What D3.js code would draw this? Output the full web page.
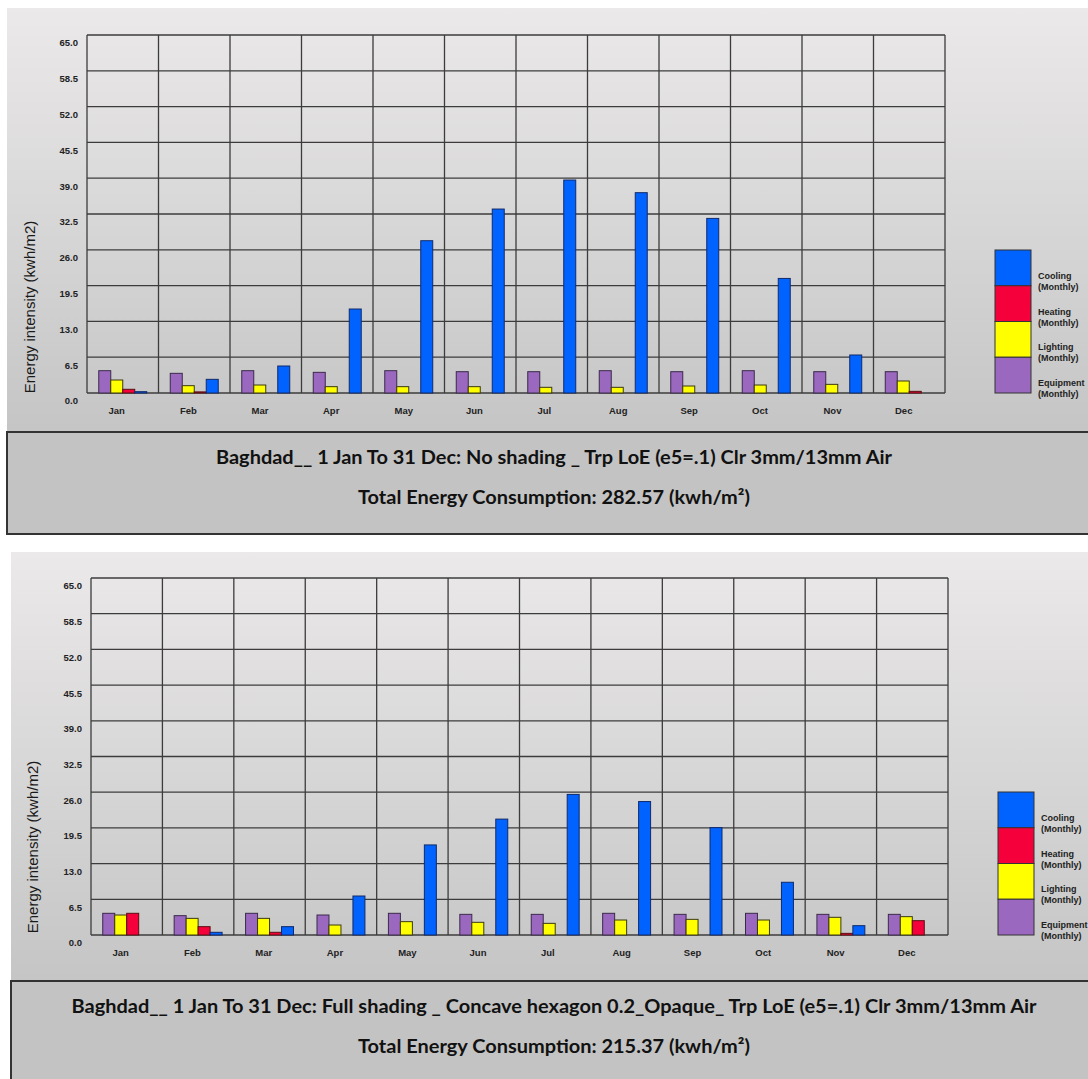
<!DOCTYPE html>
<html>
<head>
<meta charset="utf-8">
<script src="https://cdn.jsdelivr.net/npm/d3@7/dist/d3.min.js"></script>
<style>
  html, body { margin: 0; padding: 0; background: #ffffff; }
  svg { display: block; }
</style>
</head>
<body>
<svg id="chart" width="1088" height="1079"></svg>
<script>
// ---------------- DATA ----------------
const months = ["Jan", "Feb", "Mar", "Apr", "May", "Jun", "Jul", "Aug", "Sep", "Oct", "Nov", "Dec"];
const seriesNames = ["Equipment", "Lighting", "Heating", "Cooling"];
const legendLabels = ["Cooling", "Heating", "Lighting", "Equipment"];
const yTickValues = [0, 6.5, 13, 19.5, 26, 32.5, 39, 45.5, 52, 58.5, 65];
const yAxisTitle = "Energy intensity (kwh/m2)";

// Chart 1: No shading
const equipment1 = [4.05, 3.57, 4.05, 3.75, 4.05, 3.87, 3.87, 4.05, 3.87, 4.05, 3.87, 3.87];
const lighting1  = [2.36, 1.33, 1.45, 1.15, 1.15, 1.15, 1.03, 1.03, 1.27, 1.45, 1.57, 2.18];
const heating1   = [0.67, 0.2, 0, 0, 0, 0, 0, 0, 0, 0, 0, 0.3];
const cooling1   = [0.24, 2.48, 4.9, 15.25, 27.65, 33.4, 38.67, 36.37, 31.7, 20.8, 6.9, 0];
const caption1a = "Baghdad__ 1 Jan To 31 Dec: No shading _ Trp LoE (e5=.1) Clr 3mm/13mm Air";
const caption1b = "Total Energy Consumption: 282.57 (kwh/m²)";

// Chart 2: Full shading
const equipment2 = [3.95, 3.52, 3.95, 3.64, 3.95, 3.76, 3.76, 3.95, 3.76, 3.95, 3.76, 3.76];
const lighting2  = [3.64, 3.03, 3.03, 1.82, 2.43, 2.31, 2.12, 2.73, 2.85, 2.73, 3.22, 3.34];
const heating2   = [3.95, 1.52, 0.49, 0, 0, 0, 0, 0, 0, 0, 0.3, 2.61];
const cooling2   = [0, 0.49, 1.52, 7.1, 16.4, 21.1, 25.6, 24.3, 19.55, 9.6, 1.7, 0];
const caption2a = "Baghdad__ 1 Jan To 31 Dec: Full shading _ Concave hexagon 0.2_Opaque_ Trp LoE (e5=.1) Clr 3mm/13mm Air";
const caption2b = "Total Energy Consumption: 215.37 (kwh/m²)";

// ---------------- STYLE ----------------
const colors = { Equipment: "#9b68c0", Lighting: "#ffff00", Heating: "#f5003a", Cooling: "#0062ff" };
const strokes = { Equipment: "#3a2a4a", Lighting: "#3a3a10", Heating: "#5a1010", Cooling: "#102a6a" };

const svg = d3.select("#chart");
const defs = svg.append("defs");
const grad = defs.append("linearGradient").attr("id", "panelGrad")
  .attr("x1", 0).attr("y1", 0).attr("x2", 0).attr("y2", 1);
grad.append("stop").attr("offset", "0%").attr("stop-color", "#ebe9e9");
grad.append("stop").attr("offset", "100%").attr("stop-color", "#c5c5c5");

const layouts = [
  { panel: { x: 7, y: 8, h: 424 }, plot: { l: 87, t: 35, r: 945, b: 393 },
    legend: { x: 995, y: 250, w: 36, h: 143 }, ylab: { x: 30, y: 307 },
    cap: { x: 7, y: 432, h: 102, cx: 554, y1: 458, y2: 498, w1: 676, w2: 392 } },
  { panel: { x: 11, y: 552, h: 429 }, plot: { l: 91, t: 578, r: 948, b: 935 },
    legend: { x: 998, y: 792, w: 36, h: 143 }, ylab: { x: 33, y: 847 },
    cap: { x: 11, y: 981, h: 120, cx: 554, y1: 1007, y2: 1047, w1: 965, w2: 392 } }
];

const charts = [
  { data: [equipment1, lighting1, heating1, cooling1], cap: [caption1a, caption1b] },
  { data: [equipment2, lighting2, heating2, cooling2], cap: [caption2a, caption2b] }
];

charts.forEach((c, i) => drawChart(c, layouts[i]));

function drawChart(chart, L) {
  const g = svg.append("g");
  // panel background
  g.append("rect").attr("x", L.panel.x).attr("y", L.panel.y)
    .attr("width", 1100).attr("height", L.panel.h).attr("fill", "url(#panelGrad)");

  const x = d3.scaleBand().domain(months).range([L.plot.l, L.plot.r]).paddingInner(0).paddingOuter(0);
  const xs = d3.scaleBand().domain(seriesNames).range([0, x.bandwidth()]).paddingInner(0).paddingOuter(0.98);
  const y = d3.scaleLinear().domain([0, 65]).range([L.plot.b, L.plot.t]);

  const gridColor = "#3c3c3c";
  // horizontal grid
  g.append("g").selectAll("line").data(yTickValues).join("line")
    .attr("x1", L.plot.l).attr("x2", L.plot.r)
    .attr("y1", d => y(d)).attr("y2", d => y(d))
    .attr("stroke", gridColor).attr("stroke-width", 1.3);
  // vertical grid
  g.append("g").selectAll("line").data(months.concat(["__end"])).join("line")
    .attr("x1", d => d === "__end" ? L.plot.r : x(d))
    .attr("x2", d => d === "__end" ? L.plot.r : x(d))
    .attr("y1", L.plot.t).attr("y2", L.plot.b)
    .attr("stroke", gridColor).attr("stroke-width", 1.3);

  // bars
  const flat = [];
  months.forEach((m, mi) => seriesNames.forEach((s, si) => {
    const v = chart.data[si][mi];
    if (v > 0) flat.push({ m, s, v });
  }));
  g.append("g").selectAll("rect").data(flat).join("rect")
    .attr("x", d => x(d.m) + xs(d.s))
    .attr("width", xs.bandwidth())
    .attr("y", d => y(d.v))
    .attr("height", d => Math.max(0.8, y(0) - y(d.v)))
    .attr("fill", d => colors[d.s])
    .attr("stroke", d => strokes[d.s]).attr("stroke-width", 1);

  // y axis labels
  const yAxis = d3.axisLeft(y).tickValues(yTickValues).tickSize(0).tickPadding(9)
    .tickFormat(d => d.toFixed(1));
  const ya = g.append("g").attr("transform", `translate(${L.plot.l},0)`).call(yAxis);
  ya.select(".domain").remove();
  ya.selectAll("text").attr("dy", "1.15em")
    .attr("font-family", "'Liberation Sans', Arial, sans-serif")
    .attr("font-size", 9.5).attr("font-weight", "bold").attr("fill", "#222");

  // x axis labels
  const xAxis = d3.axisBottom(x).tickSize(0).tickPadding(0);
  const xa = g.append("g").attr("transform", `translate(0,${L.plot.b})`).call(xAxis);
  xa.select(".domain").remove();
  xa.selectAll(".tick text")
    .attr("text-anchor", "start")
    .attr("x", -x.bandwidth() / 2 + 21.5)
    .attr("y", 18).attr("dy", "0.35em")
    .attr("font-family", "'Liberation Sans', Arial, sans-serif")
    .attr("font-size", 9.5).attr("font-weight", "bold").attr("fill", "#222");

  // y title
  g.append("text").attr("transform", `translate(${L.ylab.x},${L.ylab.y}) rotate(-90)`)
    .attr("text-anchor", "middle").attr("dy", "0.35em")
    .attr("font-family", "'Liberation Sans', Arial, sans-serif")
    .attr("font-size", 15).attr("fill", "#1a1a1a").text(yAxisTitle);

  // legend
  const ly = d3.scaleBand().domain(legendLabels).range([L.legend.y, L.legend.y + L.legend.h]);
  const lg = g.append("g");
  lg.selectAll("rect").data(legendLabels).join("rect")
    .attr("x", L.legend.x).attr("y", d => ly(d))
    .attr("width", L.legend.w).attr("height", ly.bandwidth())
    .attr("fill", d => colors[d]).attr("stroke", "#333").attr("stroke-width", 1);
  const lt = lg.selectAll("text.lab").data(legendLabels).join("text")
    .attr("class", "lab")
    .attr("font-family", "'Liberation Sans', Arial, sans-serif")
    .attr("font-size", 9).attr("font-weight", "bold").attr("fill", "#222");
  lt.append("tspan").attr("x", L.legend.x + L.legend.w + 7)
    .attr("y", d => ly(d) + ly.bandwidth() - 10).attr("dy", "0.35em").text(d => d);
  lt.append("tspan").attr("x", L.legend.x + L.legend.w + 7)
    .attr("y", d => ly(d) + ly.bandwidth() + 1).attr("dy", "0.35em").text("(Monthly)");

  // caption box
  g.append("rect").attr("x", L.cap.x).attr("y", L.cap.y)
    .attr("width", 1100).attr("height", L.cap.h)
    .attr("fill", "#c3c3c3").attr("stroke", "#333").attr("stroke-width", 2);
  [[chart.cap[0], L.cap.y1, L.cap.w1], [chart.cap[1], L.cap.y2, L.cap.w2]].forEach(([t, yy, w]) => {
    g.append("text").attr("x", L.cap.cx).attr("y", yy).attr("dy", "0.35em")
      .attr("text-anchor", "middle")
      .attr("font-family", "Lato, 'Open Sans', sans-serif")
      .attr("font-size", 18.5).attr("font-weight", "bold").attr("fill", "#111")
      .attr("textLength", w).attr("lengthAdjust", "spacingAndGlyphs")
      .text(t);
  });
}
</script>
</body>
</html>
